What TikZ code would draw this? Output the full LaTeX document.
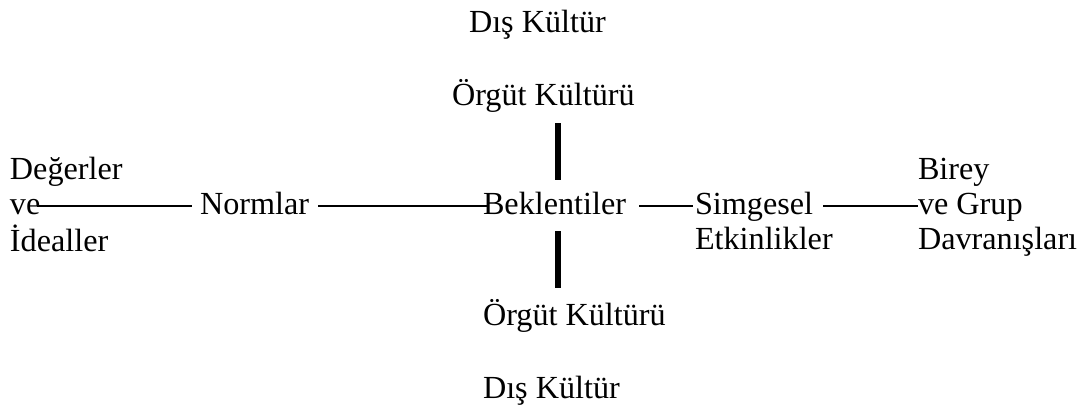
\documentclass[tikz,border=0pt]{standalone}
\usepackage{fontspec}
\setmainfont{Liberation Serif}
\usetikzlibrary{calc}
\begin{document}
\begin{tikzpicture}[x=0.5pt,y=-0.5pt,
  lbl/.style={inner sep=0pt,outer sep=0pt,anchor=base west,font=\fontsize{16.1pt}{17.5pt}\selectfont},
  conn/.style={line width=1pt},
  bar/.style={line width=3pt}]
\useasboundingbox[fill=white] (0,0) rectangle (1080,408);
% texts
\node[lbl] (dis1) at (469,32) {Dış Kültür};
\node[lbl] (org1) at (452,105) {Örgüt Kültürü};
\node[lbl] (bek) at (483,214) {Beklentiler};
\node[lbl] (org2) at (483,325) {Örgüt Kültürü};
\node[lbl] (dis2) at (483,398) {Dış Kültür};
\node[lbl] (deg) at (10,179) {\begin{tabular}[t]{@{}l@{}}Değerler\\ve\\İdealler\end{tabular}};
\node[lbl] (norm) at (200,214) {Normlar};
\node[lbl] (simg) at (695,214) {\begin{tabular}[t]{@{}l@{}}Simgesel\\Etkinlikler\end{tabular}};
\node[lbl] (birey) at (918,179) {\begin{tabular}[t]{@{}l@{}}Birey\\ve Grup\\Davranışları\end{tabular}};
\coordinate (barx) at (558,0);
% connectors
\draw[conn] ($(deg.base west)+(27,27)$) -- ($(norm.base west)+(-8,-8)$);
\draw[conn] ($(norm.base east)+(9,-8)$) -- ($(bek.base west)+(5,-8)$);
\draw[conn] ($(bek.base east)+(13,-8)$) -- ($(simg.base west)+(-2,-8)$);
\draw[conn] ($(simg.base west)+(128,-8)$) -- ($(birey.base west)+(0,27)$);
\draw[bar] ($(org1.base -| barx)+(0,18)$) -- ($(bek.base -| barx)+(0,-34)$);
\draw[bar] ($(bek.base -| barx)+(0,17)$) -- ($(org2.base -| barx)+(0,-37)$);
\end{tikzpicture}
\end{document}
